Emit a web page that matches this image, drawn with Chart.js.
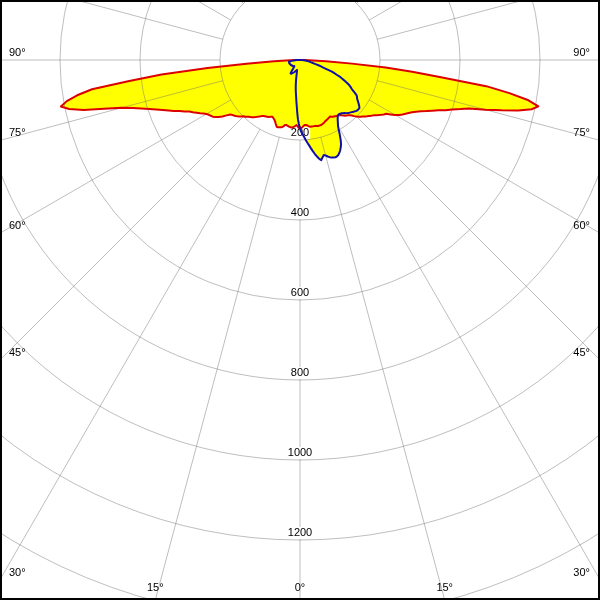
<!DOCTYPE html>
<html>
<head>
<meta charset="utf-8">
<script src="https://cdn.jsdelivr.net/npm/chart.js@4.4.0/dist/chart.umd.min.js"></script>
<style>
html, body { margin: 0; padding: 0; background: #fff; }
#view { position: relative; width: 600px; height: 600px; overflow: hidden; background: #fff; }
#holder { position: absolute; left: -340px; top: -580px; width: 1280px; height: 1280px; }
#frame { position: absolute; left: 0; top: 0; width: 600px; height: 600px; box-sizing: border-box; border: 2px solid #000; pointer-events: none; }
</style>
</head>
<body>
<div id="view">
  <div id="holder"><canvas id="chart"></canvas></div>
  <div id="frame"></div>
</div>
<script>
// luminous intensity (cd) at gamma 0..90 deg, 1 deg steps
var redLeft = [
  168, 170, 166, 163, 165, 167, 169, 170, 170, 169,
  168, 167, 166, 167, 171, 174, 175, 176, 177, 177,
  174, 170, 166, 163, 161, 159, 158, 159, 161, 163,
  164, 165, 166, 167, 169, 172, 175, 178, 181, 184,
  187, 189, 191, 194, 197, 199, 203, 207, 210, 213,
  216, 218, 221, 230, 240, 248, 255, 260, 263, 266,
  270, 276, 283, 290, 298, 305, 316, 327, 340, 352,
  365, 380, 396, 415, 435, 462, 505, 555, 590, 609,
  592, 564, 525, 430, 348, 232, 134, 65, 35, 12,
  0
];
var redRight = [
  168, 171, 168, 165, 163, 163, 164, 166, 168, 169,
  169, 169, 169, 169, 170, 171, 171, 171, 171, 170,
  169, 168, 166, 165, 164, 163, 162, 161, 160, 162,
  164, 165, 166, 167, 168, 169, 170, 173, 176, 179,
  181, 183, 186, 190, 195, 200, 204, 208, 211, 215,
  219, 222, 226, 230, 235, 240, 245, 250, 254, 264,
  275, 284, 290, 296, 302, 309, 318, 328, 341, 354,
  368, 385, 400, 420, 440, 480, 520, 560, 592, 607,
  580, 530, 470, 355, 282, 215, 130, 65, 33, 12,
  0
];
var blueLeft = [
  172, 160, 148, 132, 116, 104, 93, 84, 76, 68,
  60, 52, 45, 38, 33, 29, 27, 26, 26, 27,
  28, 29, 30, 31, 32, 33, 34, 35, 36, 37,
  38, 39, 40, 41, 41, 41, 38, 34, 30, 27,
  24, 22, 21, 21, 21, 22, 22, 22, 23, 23,
  23, 23, 24, 24, 24, 24, 25, 25, 25, 25,
  25, 26, 26, 26, 26, 26, 27, 27, 27, 27,
  27, 27, 28, 28, 28, 28, 28, 28, 28, 28,
  28, 28, 26, 24, 21, 18, 15, 12, 8, 4,
  0
];
var blueRight = [
  172, 180, 186, 192, 200, 207, 214, 222, 230, 238,
  245, 252, 256, 250, 245, 247, 251, 254, 256, 258,
  259, 258, 256, 252, 247, 241, 234, 224, 212, 200,
  190, 184, 178, 173, 169, 167, 167, 168, 169, 171,
  173, 176, 178, 180, 182, 184, 186, 188, 190, 191,
  191, 191, 188, 184, 180, 176, 172, 170, 167, 160,
  153, 147, 143, 138, 131, 124, 116, 110, 100, 92,
  85, 70, 60, 55, 48, 42, 37, 33, 30, 27,
  25, 22, 19, 16, 13, 10, 8, 6, 4, 2,
  0
];
var upperHalf = 0; // no light emitted above the horizon
var radialTicks = [200, 400, 600, 800, 1000, 1200, 1400];
var angleTicks = [0, 15, 30, 45, 60, 75, 90];
var scaleMax = 1600;

var gridColor = 'rgba(110,110,110,0.45)';
var view = { left: 340, top: 580, right: 940, bottom: 1180 };

var labels = [];
for (let i = 0; i < 360; i++) labels.push(i + '°');

function fullCircle(left, right) {
    const out = [];
    for (let i = 0; i < 360; i++) {
        if (i <= 90) out.push(left[i]);
        else if (i >= 270) out.push(right[360 - i]);
        else out.push(upperHalf);
    }
    return out;
}

function edgeExit(cx, cy, dx, dy) {
    let best = Infinity, side = null, t;
    if (dx < -1e-9) { t = (view.left - cx) / dx; if (t < best) { best = t; side = 'left'; } }
    if (dx > 1e-9) { t = (view.right - cx) / dx; if (t < best) { best = t; side = 'right'; } }
    if (dy > 1e-9) { t = (view.bottom - cy) / dy; if (t < best) { best = t; side = 'bottom'; } }
    if (dy < -1e-9) { t = (view.top - cy) / dy; if (t < best) { best = t; side = 'top'; } }
    return { x: cx + dx * best, y: cy + dy * best, side: side };
}

// grid and labels go on top of the yellow fill, under the curves
var polarFrame = {
    id: 'polarFrame',
    afterDatasetDraw(chart, args) {
        if (args.index !== 2) return;
        const r = chart.scales.r;
        const ctx = chart.ctx;
        r.drawGrid();

        ctx.save();
        ctx.strokeStyle = gridColor;
        ctx.lineWidth = 1;
        for (let a = 0; a < 360; a += 15) {
            const p0 = r.getPointPositionForValue(a, radialTicks[0]);
            const p1 = r.getPointPositionForValue(a, scaleMax);
            ctx.beginPath();
            ctx.moveTo(p0.x, p0.y);
            ctx.lineTo(p1.x, p1.y);
            ctx.stroke();
        }

        ctx.font = '11px "Liberation Sans", Arial, sans-serif';
        ctx.textBaseline = 'middle';
        ctx.textAlign = 'center';
        for (const v of radialTicks) {
            const p = r.getPointPositionForValue(0, v);
            const txt = String(v);
            const w = ctx.measureText(txt).width;
            ctx.fillStyle = '#fff';
            ctx.fillRect(p.x - w / 2 - 1, p.y - 13, w + 2, 12);
            ctx.fillStyle = '#000';
            ctx.fillText(txt, p.x, p.y - 7);
        }

        for (const a of angleTicks) {
            const idxs = a === 0 ? [0] : [a, 360 - a];
            for (const idx of idxs) {
                const p = r.getPointPositionForValue(idx, scaleMax);
                const e = edgeExit(r.xCenter, r.yCenter, p.x - r.xCenter, p.y - r.yCenter);
                const txt = a + '°';
                if (e.side === 'left') {
                    ctx.textAlign = 'left';
                    ctx.fillText(txt, view.left + 9, e.y - 7);
                } else if (e.side === 'right') {
                    ctx.textAlign = 'right';
                    ctx.fillText(txt, view.right - 10, e.y - 7);
                } else {
                    ctx.textAlign = 'center';
                    ctx.fillText(txt, e.x, view.bottom - 12);
                }
            }
        }
        ctx.restore();
    }
};

var redData = fullCircle(redLeft, redRight);
var blueData = fullCircle(blueLeft, blueRight);

new Chart(document.getElementById('chart'), {
    type: 'radar',
    data: {
        labels: labels,
        datasets: [
            { label: 'C90-C270', data: blueData, fill: false, borderColor: '#1010A8', borderWidth: 2 },
            { label: 'C0-C180', data: redData, fill: false, borderColor: '#DC0000', borderWidth: 2 },
            { label: 'fill C90', data: blueData, fill: 'origin', backgroundColor: '#FFFF00', borderColor: 'rgba(0,0,0,0)', borderWidth: 1 },
            { label: 'fill C0', data: redData, fill: 'origin', backgroundColor: '#FFFF00', borderColor: 'rgba(0,0,0,0)', borderWidth: 1 }
        ]
    },
    options: {
        responsive: true,
        maintainAspectRatio: false,
        animation: false,
        layout: { padding: 0 },
        elements: {
            point: { radius: 0, hitRadius: 0, hoverRadius: 0 },
            line: { tension: 0, borderJoinStyle: 'round' }
        },
        plugins: {
            legend: { display: false },
            tooltip: { enabled: false }
        },
        scales: {
            r: {
                display: false,
                min: 0,
                max: scaleMax,
                startAngle: 180,
                ticks: { stepSize: 200, display: false },
                grid: { circular: true, color: gridColor, lineWidth: 1 },
                angleLines: { display: false },
                pointLabels: { display: false }
            }
        }
    },
    plugins: [polarFrame]
});
</script>
</body>
</html>
